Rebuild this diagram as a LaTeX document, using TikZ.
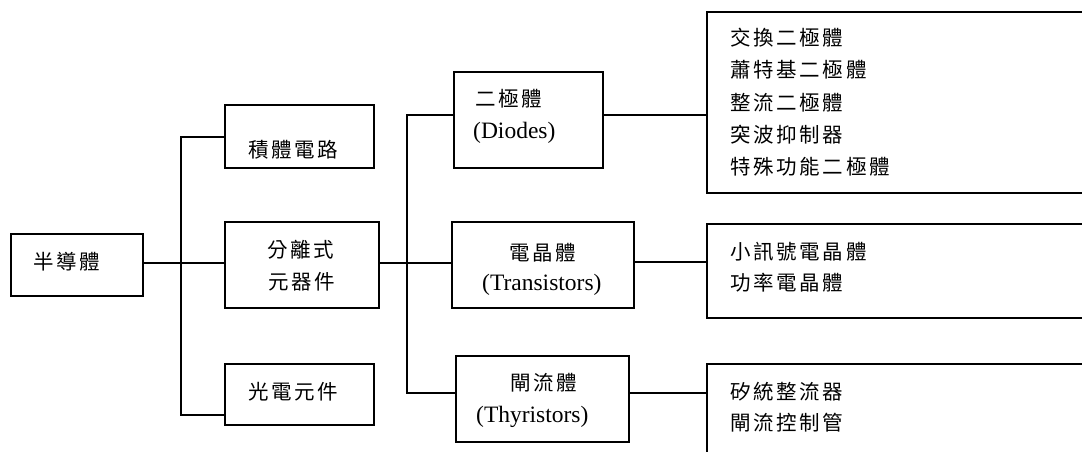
\documentclass[tikz,border=0pt]{standalone}
\usepackage{fontspec}
\setmainfont{Liberation Serif}
\newfontfamily\cjk[LetterSpace=13]{Noto Sans CJK TC}
\begin{document}
\begin{tikzpicture}[x=1pt,y=-1pt,
  box/.style={draw=black,line width=1.8pt,rectangle,inner sep=0pt,anchor=north west},
  ctxt/.style={anchor=west,inner sep=0pt,font=\fontsize{20.5}{24}\cjk},
  ltxt/.style={anchor=west,inner sep=0pt,font=\fontsize{23.5}{27}\selectfont},
  conn/.style={draw=black,line width=1.8pt}]
\clip (0,0) rectangle (1082,452);
\fill[white] (0,0) rectangle (1082,452);
% boxes
\node[box,minimum width=132pt,minimum height=62pt] (semi) at (10,233) {};
\node[box,minimum width=149pt,minimum height=63pt] (ic) at (224,104) {};
\node[box,minimum width=154pt,minimum height=86pt] (disc) at (224,221) {};
\node[box,minimum width=149pt,minimum height=61pt] (opto) at (224,363) {};
\node[box,minimum width=149pt,minimum height=96pt] (diode) at (453,71) {};
\node[box,minimum width=182pt,minimum height=86pt] (trans) at (451,221) {};
\node[box,minimum width=173pt,minimum height=86pt] (thy) at (455,355) {};
\node[box,minimum width=400pt,minimum height=181pt] (r1) at (706,11) {};
\node[box,minimum width=400pt,minimum height=94pt] (r2) at (706,223) {};
\node[box,minimum width=400pt,minimum height=120pt] (r3) at (706,363) {};
% texts
\node[ctxt] (tsemi) at (33,262) {半導體};
\node[ctxt] (tic) at (248,150) {積體電路};
\node[ctxt] (tdisc1) at (267,250) {分離式};
\node[ctxt] (tdisc2) at (268,282) {元器件};
\node[ctxt] (topto) at (248,392) {光電元件};
\node[ctxt] (tdio1) at (475,99) {二極體};
\node[ltxt] (tdio2) at (473,133) {(Diodes)};
\node[ctxt] (ttr1) at (509,253) {電晶體};
\node[ltxt] (ttr2) at (482,285) {(Transistors)};
\node[ctxt] (tth1) at (510,383) {閘流體};
\node[ltxt] (tth2) at (476,417) {(Thyristors)};
\node[ctxt] (a1) at (730,38) {交換二極體};
\node[ctxt] (a2) at (730,70) {蕭特基二極體};
\node[ctxt] (a3) at (730,103) {整流二極體};
\node[ctxt] (a4) at (730,135) {突波抑制器};
\node[ctxt] (a5) at (730,167) {特殊功能二極體};
\node[ctxt] (b1) at (730,252) {小訊號電晶體};
\node[ctxt] (b2) at (730,283) {功率電晶體};
\node[ctxt] (c1) at (730,392) {矽統整流器};
\node[ctxt] (c2) at (730,423) {閘流控制管};
% connectors, first level
\coordinate (j0) at (181,263);
\coordinate (jt) at (181,137);
\coordinate (jb) at (181,415);
\draw[conn] (semi.east |- j0) -- (disc.west |- j0);
\draw[conn] (ic.west |- jt) -- (jt) -- (jb) -- (opto.west |- jb);
% second level
\coordinate (k0) at (407,263);
\coordinate (kt) at (407,115);
\coordinate (kb) at (407,393);
\draw[conn] (disc.east |- k0) -- (trans.west |- k0);
\draw[conn] (diode.west |- kt) -- (kt) -- (kb) -- (thy.west |- kb);
% third level
\coordinate (m1) at (707,115);
\coordinate (m2) at (707,262);
\coordinate (m3) at (707,393);
\draw[conn] (diode.east |- m1) -- (r1.west |- m1);
\draw[conn] (trans.east |- m2) -- (r2.west |- m2);
\draw[conn] (thy.east |- m3) -- (r3.west |- m3);
\end{tikzpicture}
\end{document}
